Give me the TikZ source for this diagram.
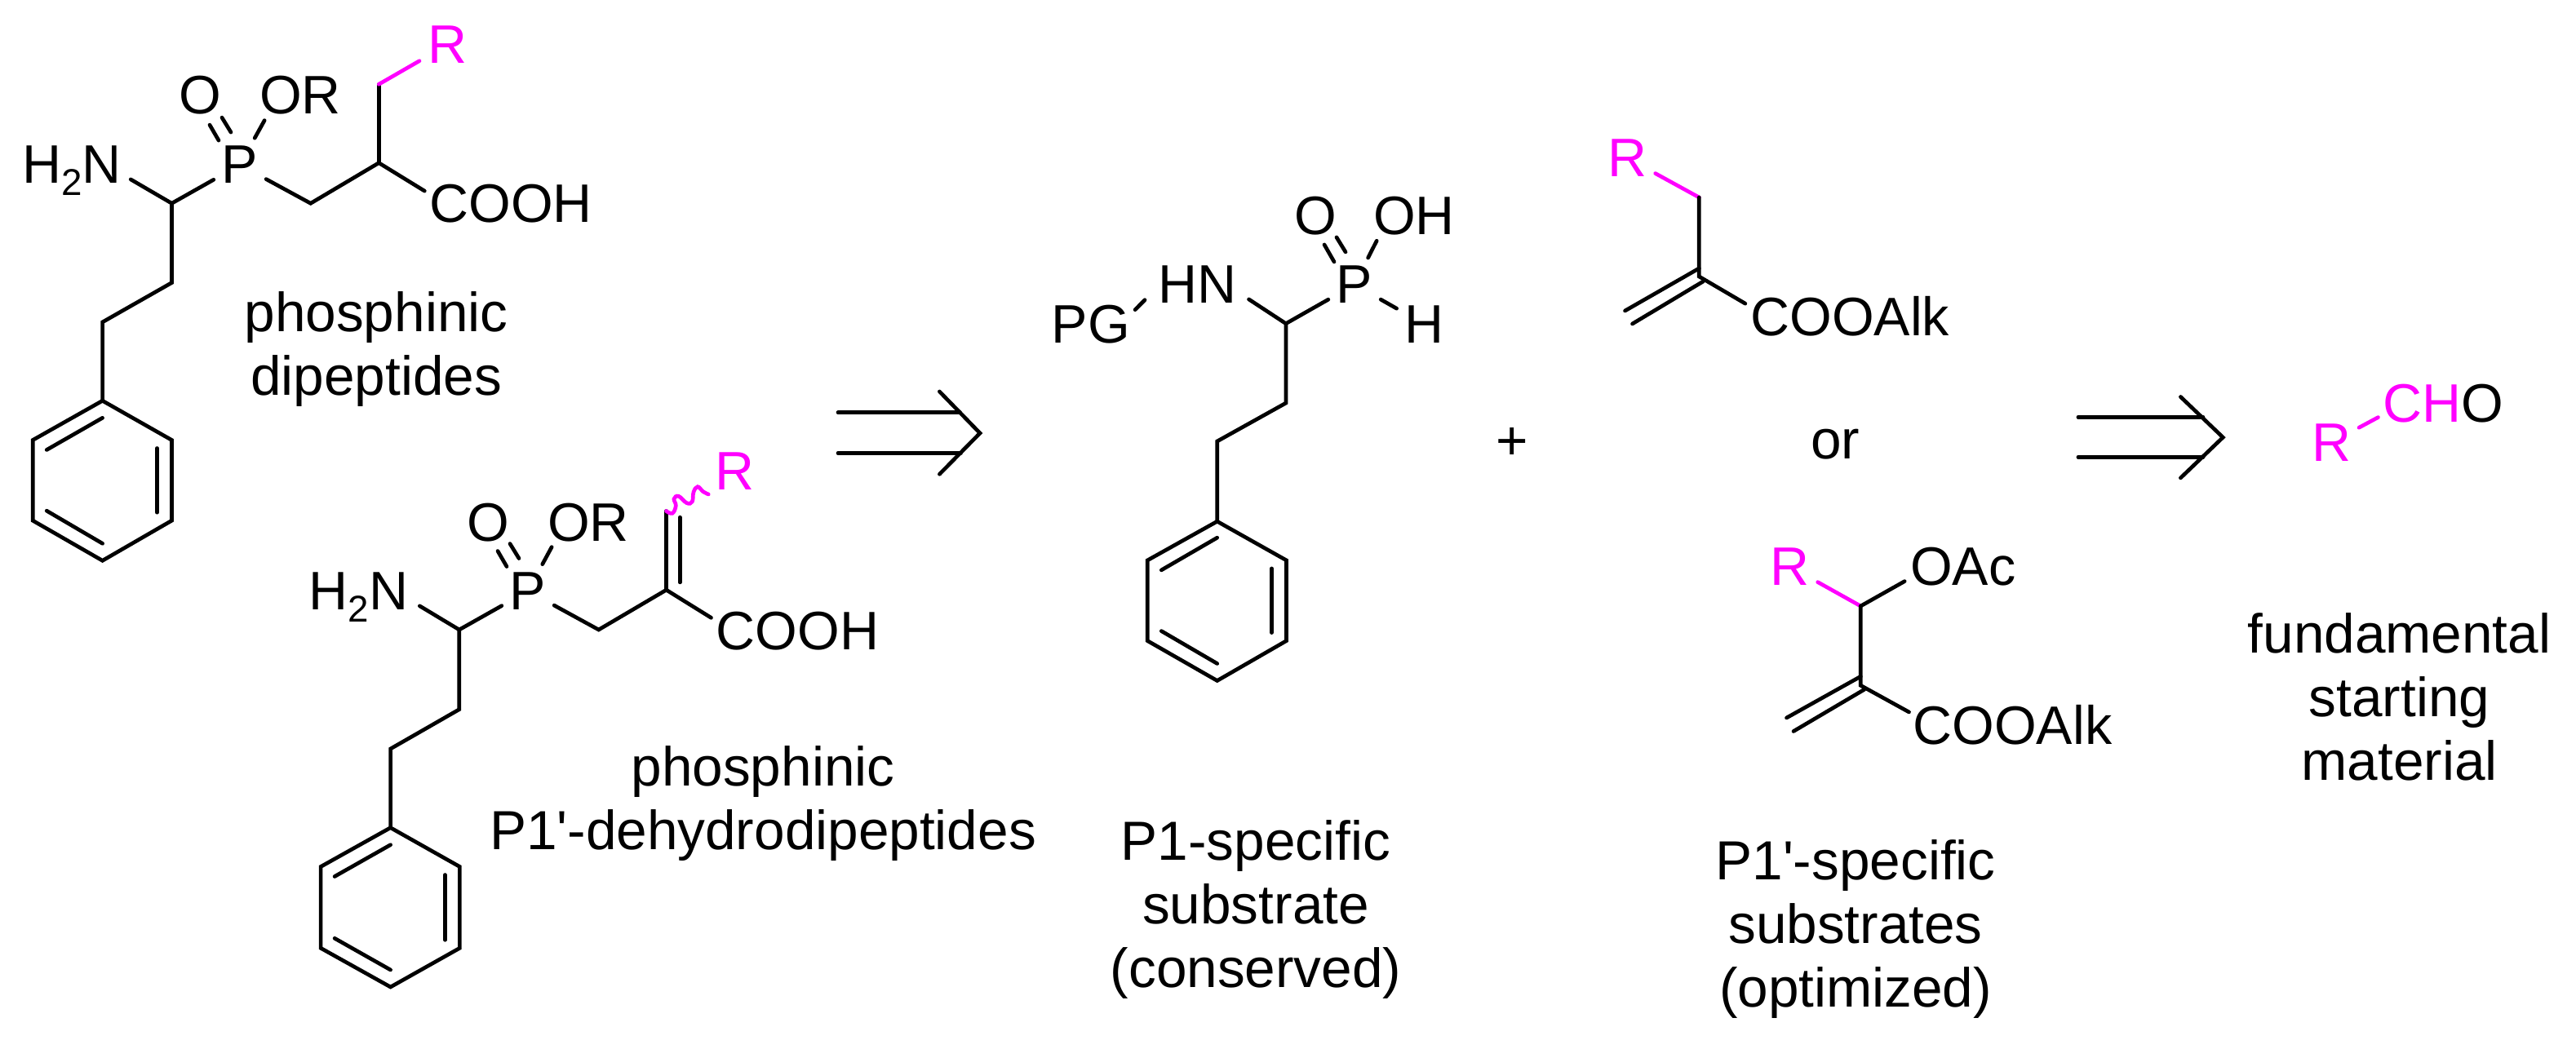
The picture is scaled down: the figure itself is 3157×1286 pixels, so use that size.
\documentclass[tikz,border=0pt]{standalone}
\usepackage{fontspec}
\setmainfont{Liberation Sans}
\newfontfamily\lblfont{Liberation Sans}
\usepackage{xcolor}
\usepackage{tikz}
\definecolor{rgroup}{RGB}{255,0,255}
\tikzset{atom/.style={anchor=base,inner sep=0pt,outer sep=0.1cm,font=\fontsize{18.9}{22.2}\selectfont},
  lbl/.style={anchor=base,inner sep=0pt,align=center,font=\lblfont\fontsize{19.2}{22.2}\selectfont},
  bond/.style={line width=1.33pt,line cap=round,line join=miter},
  rbond/.style={bond,rgroup}}
\newcommand{\subtwo}{\raisebox{-0.22em}{\fontsize{13}{13}\selectfont 2}}

\begin{document}
\begin{tikzpicture}[x=0.01cm,y=-0.01cm]
        \useasboundingbox (0,0) rectangle (3157,1286);

        % phosphinic dipeptide
        \node[atom] (nha) at (88,225) {H\subtwo N};
        \node[atom] (pa) at (294,225) {P};
        \node[atom] (oa) at (245.6,140) {O};
        \node[atom] (ora) at (368,140) {OR};
        \node[atom] (cooha) at (626,273) {COOH};
        \node[atom,rgroup] (ra) at (548,78) {R};
        \node[lbl] (txta) at (461,485) {phosphinic\\dipeptides};
        \coordinate (a1) at (210.5,249.3);
        \coordinate (a2) at (210.5,346.6);
        \coordinate (a3) at (125.6,394.9);
        \coordinate (a4) at (380.7,249.3);
        \coordinate (a5) at (464.3,199.7);
        \coordinate (a6) at (464.3,103.3);
        \coordinate (ar1) at (125.6,491.3);
        \coordinate (ar2) at (210.5,539.5);
        \coordinate (ar3) at (210.5,638.2);
        \coordinate (ar4) at (125.6,687.3);
        \coordinate (ar5) at (40.2,638.2);
        \coordinate (ar6) at (40.2,539.5);

        \draw [bond] ([shift={(1.5,10.5)}]nha.east) -- (a1);
        \draw [bond] (a1) -- (pa);
        \draw [bond] (a1) -- (a2) -- (a3) -- (ar1);
        \draw [bond] ([shift={(-37,-49)}]pa.center) -- ([shift={(-26,-30)}]pa.center);
        \draw [bond] ([shift={(-22,-58)}]pa.center) -- ([shift={(-11,-40)}]pa.center);
        \draw [bond] (pa) -- ([shift={(16,-3)}]ora.south west);
        \draw [bond] (pa) -- (a4) -- (a5) -- ([shift={(4,-16)}]cooha.west);
        \draw [bond] (a5) -- (a6);
        \draw [rbond] (a6) -- (ra);
        \draw [bond] (ar1) -- (ar2) -- (ar3) -- (ar4) -- (ar5) -- (ar6) -- cycle;
        \draw [bond] ([shift={(17,12)}]ar6) -- ([shift={(0,21)}]ar1);
        \draw [bond] ([shift={(-18,10)}]ar2) -- ([shift={(-18,-10)}]ar3);
        \draw [bond] ([shift={(17,-12)}]ar5) -- ([shift={(0,-21)}]ar4);

        % phosphinic dehydrodipeptide
        \node[atom] (nhb) at (439.6,747.4) {H\subtwo N};
        \node[atom] (pb) at (647,747.4) {P};
        \node[atom] (ob) at (598,664) {O};
        \node[atom] (orb) at (721,664) {OR};
        \node[atom] (coohb) at (977.6,796.2) {COOH};
        \node[atom,rgroup] (rb) at (900,600.8) {R};
        \node[lbl] (txtb) at (935,1041.4) {phosphinic\\P1'-dehydrodipeptides};
        \coordinate (b1) at (562.8,772);
        \coordinate (b2) at (562.8,869.7);
        \coordinate (b3) at (478.6,918);
        \coordinate (b4) at (733.7,772);
        \coordinate (b5) at (816.6,723.2);
        \coordinate (b6) at (816.6,626.5);
        \coordinate (br1) at (478.6,1014.7);
        \coordinate (br2) at (563.4,1062.5);
        \coordinate (br3) at (563.4,1162.3);
        \coordinate (br4) at (478.6,1210);
        \coordinate (br5) at (393.1,1162.3);
        \coordinate (br6) at (393.1,1062.5);

        \draw [bond] ([shift={(4,11)}]nhb.east) -- (b1);
        \draw [bond] (b1) -- (pb);
        \draw [bond] (b1) -- (b2) -- (b3) -- (br1);
        \draw [bond] ([shift={(-37,-49)}]pb.center) -- ([shift={(-26,-30)}]pb.center);
        \draw [bond] ([shift={(-22,-58)}]pb.center) -- ([shift={(-11,-40)}]pb.center);
        \draw [bond] (pb) -- ([shift={(15,-4)}]orb.south west);
        \draw [bond] (pb) -- (b4) -- (b5) -- ([shift={(3.6,-16)}]coohb.west);
        \draw [bond] (b5) -- (b6);
        \draw [bond] ([shift={(16.6,-9.3)}]b5) -- ([shift={(16.6,7.7)}]b6);
        \draw [rbond] plot[smooth,tension=0.7] coordinates {(b6) (824,629.3) (828.3,620) (826,611.7) (831.7,608.3) (841.7,616.7) (848.3,615) (850,603.3) (855,596.7) (861.7,602.7) (868.3,606)};
        \draw [bond] (br1) -- (br2) -- (br3) -- (br4) -- (br5) -- (br6) -- cycle;
        \draw [bond] ([shift={(17,12)}]br6) -- ([shift={(0,21)}]br1);
        \draw [bond] ([shift={(-18,10)}]br2) -- ([shift={(-18,-10)}]br3);
        \draw [bond] ([shift={(17,-12)}]br5) -- ([shift={(0,-21)}]br4);

        % first retro arrow
        \coordinate (ua1) at (1027,505.7);
        \coordinate (ua2) at (1176.3,505.7);
        \coordinate (ua3) at (1027,555.6);
        \coordinate (ua4) at (1177.5,555.6);
        \coordinate (ua5) at (1151.4,480);
        \coordinate (ua6) at (1201,531);
        \coordinate (ua7) at (1151.4,581.3);
        \draw [bond] (ua1) -- (ua2);
        \draw [bond] (ua3) -- (ua4);
        \draw [bond] (ua5) -- (ua6) -- (ua7);

        % P1 substrate
        \node[atom] (pg) at (1336.7,420.3) {PG};
        \node[atom] (nhc) at (1467,371.8) {HN};
        \node[atom] (pc) at (1660,371.8) {P};
        \node[atom] (oc) at (1612,287.6) {O};
        \node[atom] (ohc) at (1733,287.6) {OH};
        \node[atom] (hc) at (1745.6,420.3) {H};
        \node[lbl] (txtc) at (1539,1210.7) {P1-specific\\substrate\\(conserved)};
        \coordinate (c1) at (1575.9,396.7);
        \coordinate (c2) at (1575.9,494.1);
        \coordinate (c3) at (1491.7,541);
        \coordinate (cr1) at (1491.7,639.2);
        \coordinate (cr2) at (1576.5,686.9);
        \coordinate (cr3) at (1576.5,785.6);
        \coordinate (cr4) at (1491.7,834.5);
        \coordinate (cr5) at (1406.3,785.6);
        \coordinate (cr6) at (1406.3,686.9);

        \draw [bond] ([shift={(-3.6,-17.7)}]pg.east) -- ([shift={(-6,18.8)}]nhc.west);
        \draw [bond] ([shift={(5.5,18)}]nhc.east) -- (c1);
        \draw [bond] (c1) -- (pc);
        \draw [bond] (c1) -- (c2) -- (c3) -- (cr1);
        \draw [bond] ([shift={(-37,-49)}]pc.center) -- ([shift={(-25,-28)}]pc.center);
        \draw [bond] ([shift={(-22,-58)}]pc.center) -- ([shift={(-11,-40)}]pc.center);
        \draw [bond] (pc) -- ([shift={(14,-3)}]ohc.south west);
        \draw [bond] (pc) -- (hc);
        \draw [bond] (cr1) -- (cr2) -- (cr3) -- (cr4) -- (cr5) -- (cr6) -- cycle;
        \draw [bond] ([shift={(17,12)}]cr6) -- ([shift={(0,20)}]cr1);
        \draw [bond] ([shift={(-18,10)}]cr2) -- ([shift={(-18,-10)}]cr3);
        \draw [bond] ([shift={(17,-12)}]cr5) -- ([shift={(0,-21)}]cr4);

        \node[lbl] (plus) at (1853.3,564) {+};
        \node[lbl] (ortxt) at (2249,562.5) {or};

        % acrylate
        \node[atom,rgroup] (rd) at (1994.7,216.8) {R};
        \node[atom] (cood) at (2267.3,411.9) {COOAlk};
        \coordinate (d1) at (2082.3,242);
        \coordinate (d2) at (2082.3,339);
        \coordinate (d3) at (1996,389);
        \draw [rbond] (rd) -- (d1);
        \draw [bond] (d1) -- (d2) -- ([shift={(3.4,-16)}]cood.west);
        \draw [bond] ([shift={(0,-10)}]d2) -- ([shift={(-4.5,-8)}]d3);
        \draw [bond] ([shift={(5,6)}]d2) -- ([shift={(4.5,8)}]d3);

        % acetate
        \node[atom,rgroup] (re) at (2193.7,717.5) {R};
        \node[atom] (oac) at (2405.8,717.5) {OAc};
        \node[atom] (cooe) at (2466.4,912.7) {COOAlk};
        \node[lbl] (txte) at (2274,1234.3) {P1'-specific\\substrates\\(optimized)};
        \coordinate (e1) at (2280.3,743);
        \coordinate (e2) at (2280.3,840.3);
        \coordinate (e3) at (2194,888);
        \draw [rbond] (re) -- (e1);
        \draw [bond] (e1) -- ([shift={(3,18)}]oac.west);
        \draw [bond] (e1) -- (e2) -- ([shift={(5,-16)}]cooe.west);
        \draw [bond] ([shift={(0,-11)}]e2) -- ([shift={(-4.5,-8)}]e3);
        \draw [bond] ([shift={(4.5,5)}]e2) -- ([shift={(4,8.5)}]e3);

        % second retro arrow
        \coordinate (va1) at (2546.9,511.3);
        \coordinate (va2) at (2700,511.3);
        \coordinate (va3) at (2546.9,560.3);
        \coordinate (va4) at (2700,560.3);
        \coordinate (va5) at (2672.4,486.5);
        \coordinate (va6) at (2724.3,536.2);
        \coordinate (va7) at (2672.4,585.9);
        \draw [bond] (va1) -- (va2);
        \draw [bond] (va3) -- (va4);
        \draw [bond] (va5) -- (va6) -- (va7);

        % aldehyde
        \node[atom,rgroup] (rf) at (2857,565.4) {R};
        \node[atom] (cho) at (2994.3,517.9) {{\color{rgroup}CH}O};
        \node[lbl] (txtf) at (2940.5,956.5) {fundamental\\starting\\material};
        \draw [rbond] (rf) -- ([shift={(4,16.6)}]cho.west);
    \end{tikzpicture}
\end{document}
